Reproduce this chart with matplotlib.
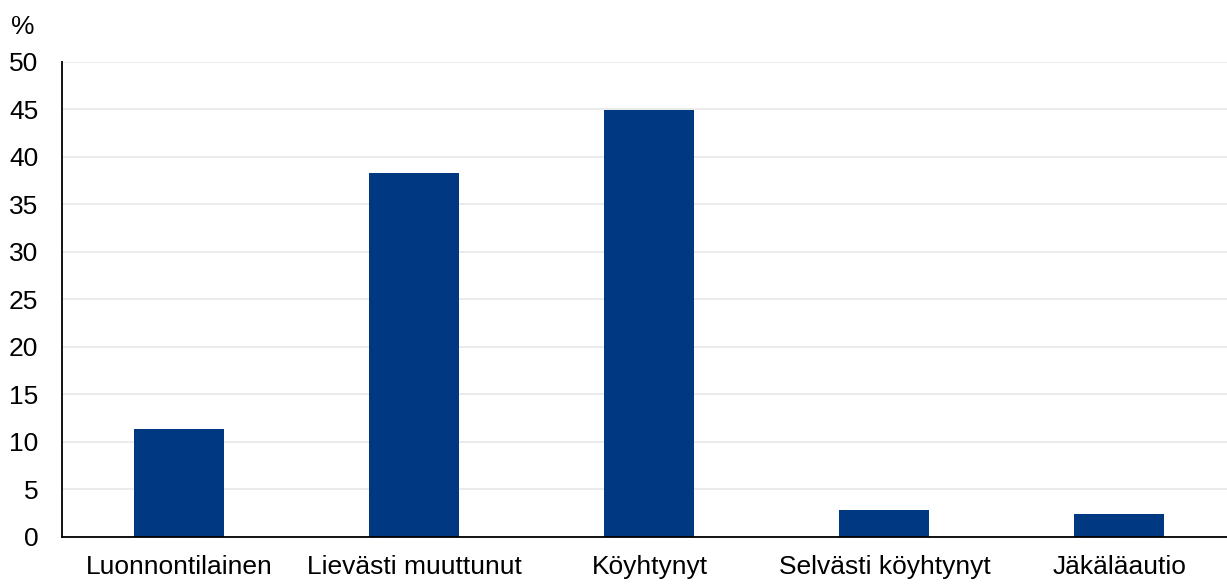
import matplotlib
matplotlib.use("Agg")
import matplotlib.pyplot as plt

categories = ["Luonnontilainen", "Lievästi muuttunut", "Köyhtynyt",
              "Selvästi köyhtynyt", "Jäkäläautio"]
values = [11.4, 38.3, 44.9, 2.8, 2.4]
yticks = [0, 5, 10, 15, 20, 25, 30, 35, 40, 45, 50]

plt.rcParams['font.family'] = ['Liberation Sans', 'DejaVu Sans']

fig = plt.figure(figsize=(12.27, 5.84), dpi=100)
ax = fig.add_axes([0.0505, 0.0805, 0.9576, 0.8135])

x = range(len(categories))
ax.bar(x, values, width=0.383, color='#003882', zorder=3)

ax.set_xlim(-0.5, len(categories) - 0.5)
ax.set_ylim(0, 50)
ax.set_yticks(yticks)
ax.set_xticks(list(x))
ax.set_xticklabels(categories)
ax.tick_params(axis='both', length=0, labelsize=19, colors='black')
ax.tick_params(axis='x', pad=13)
ax.tick_params(axis='y', pad=17)

ax.grid(axis='y', color='#e8e8e8', linewidth=1.2, zorder=0)
for s in ['top', 'right']:
    ax.spines[s].set_visible(False)
ax.spines['left'].set_linewidth(1.3)
ax.spines['bottom'].set_linewidth(1.3)
ax.spines['left'].set_zorder(4)
ax.spines['bottom'].set_zorder(4)

fig.text(0.0185, 0.953, "%", fontsize=19, ha='center', va='center')

fig.savefig("out.png", dpi=100)
